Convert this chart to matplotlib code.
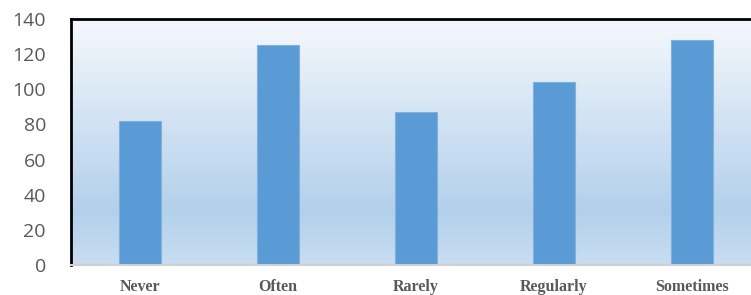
import numpy as np
import matplotlib
matplotlib.use("Agg")
import matplotlib.pyplot as plt
from matplotlib.colors import LinearSegmentedColormap

categories = ["Never", "Often", "Rarely", "Regularly", "Sometimes"]
counts = [82, 125, 87, 104, 128]
y_ticks = [0, 20, 40, 60, 80, 100, 120, 140]

fig = plt.figure(figsize=(7.51, 2.95), dpi=100)
ax = fig.add_axes([71 / 751, 30 / 295, 700 / 751, 246 / 295])

# background gradient, light at top, deeper blue lower down
grad = LinearSegmentedColormap.from_list(
    "bg", [(0.0, "#c8ddf1"), (0.22, "#b3d0eb"), (1.0, "#f5f8fc")])
ax.imshow(np.linspace(0, 1, 256).reshape(-1, 1), cmap=grad, aspect="auto",
          extent=[0, 1, 0, 1], transform=ax.transAxes, origin="lower", zorder=0)

x = np.arange(len(categories))
ax.bar(x, counts, width=0.31, color="#5b9bd5", edgecolor="#7fb0de",
       linewidth=0.8, zorder=2)

ax.set_xlim(-0.5, 700 / 138 - 0.5)
ax.set_ylim(0, 140)
ax.set_yticks(y_ticks)
ax.set_yticklabels([str(v) for v in y_ticks], fontsize=14, color="#595959",
                   family="Open Sans")
ax.set_xticks(x)
ax.set_xticklabels(categories, fontsize=11.5, color="#595959", fontweight="bold",
                   family="Liberation Serif")
ax.tick_params(length=0)
ax.tick_params(axis="y", pad=18)
ax.tick_params(axis="x", pad=10)

ax.spines["right"].set_visible(False)
ax.spines["left"].set_color("black")
ax.spines["left"].set_linewidth(2)
ax.spines["top"].set_color("black")
ax.spines["top"].set_linewidth(2)
ax.spines["bottom"].set_color("#d0d0d0")
ax.spines["bottom"].set_linewidth(1.5)

fig.savefig("out.png", dpi=100)
